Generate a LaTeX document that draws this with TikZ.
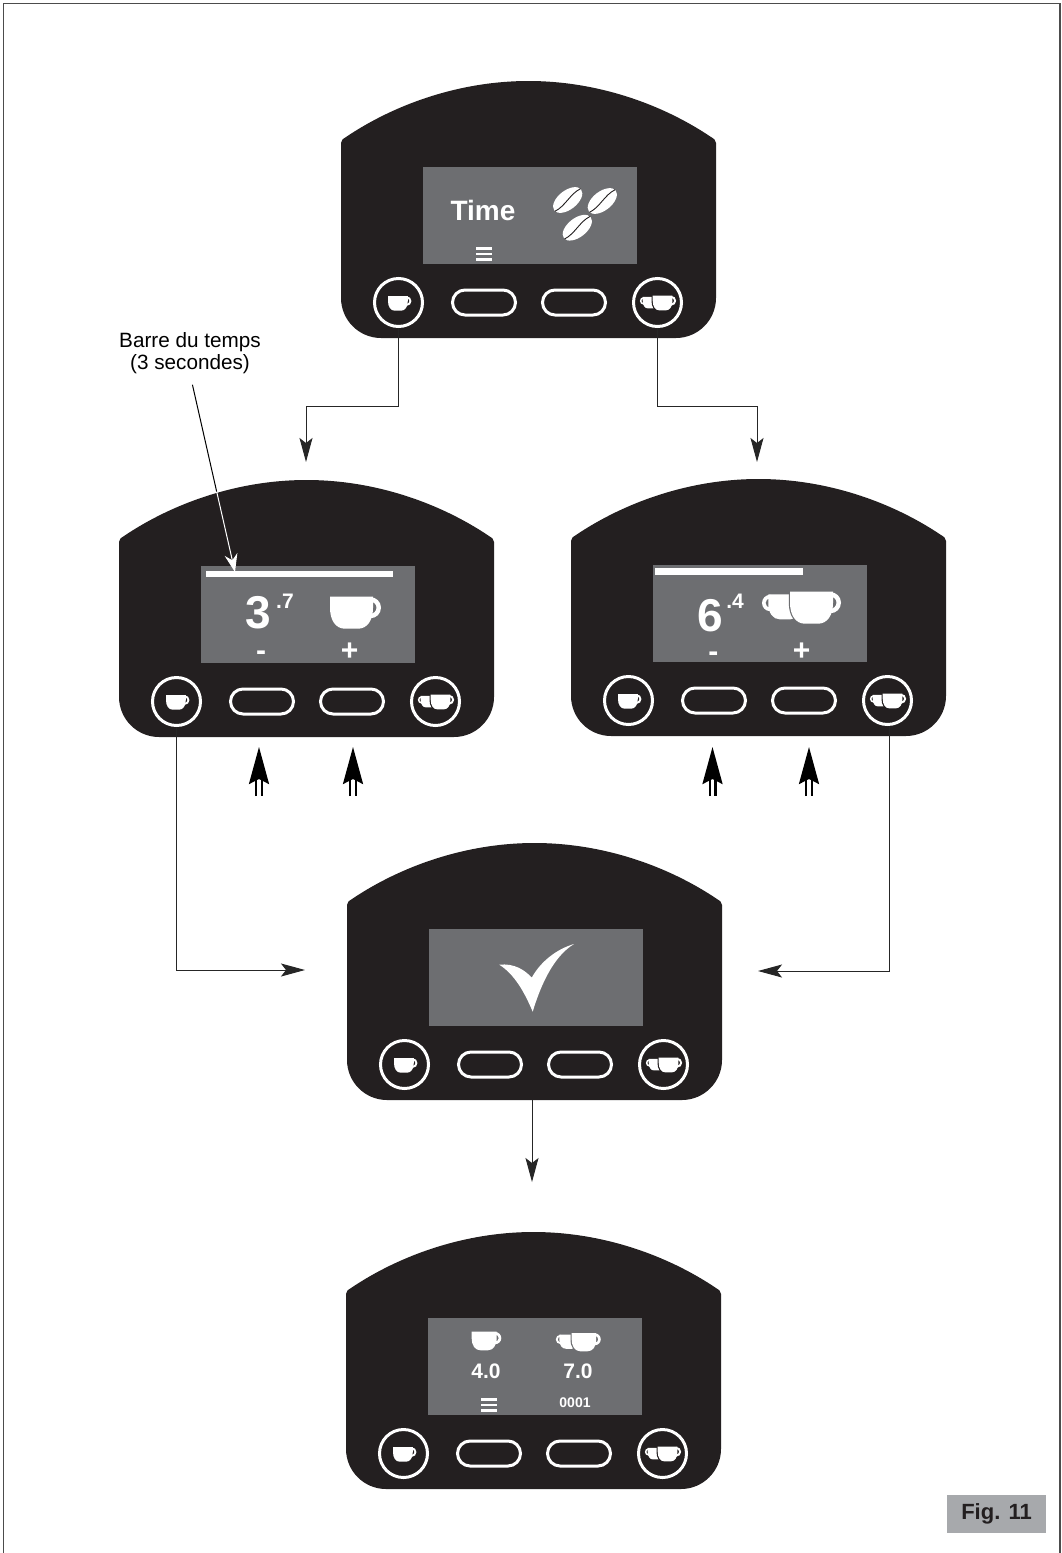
\documentclass[tikz,border=0pt]{standalone}
\usepackage{fontspec}
\setmainfont{Liberation Sans}
\usepackage{xcolor}
\usetikzlibrary{arrows.meta, positioning}

\definecolor{bodydark}{HTML}{231F20}
\definecolor{lcdgray}{HTML}{6D6E71}
\definecolor{figgray}{HTML}{A7A9AC}

\newcommand{\cupbowl}[1]{\path[#1] (0,0) -- (0,11) .. controls (0,24) and (6,32) .. (15,32) -- (28,32) .. controls (37,32) and (43,24) .. (43,11) -- (43,0) -- cycle;}
\newcommand{\cuphandle}{\fill[white,even odd rule] (40.5,11) circle (10.5) (40.5,11) circle (6);}

\tikzset{
  roundbtn/.style={circle,draw=white,line width=3pt,minimum size=48pt,inner sep=0pt},
  ovalbtn/.style={draw=white,line width=3pt,minimum width=63pt,minimum height=25pt,rounded corners=12.5pt,inner sep=0pt},
  wire/.style={black!85,line width=1pt,-{Stealth[length=24pt,width=13pt,inset=5pt]}},
  barwire/.style={line width=1pt,-{Stealth[length=18pt,width=13pt,inset=6pt]}},
  pusharrow/.style={black,line width=2.4pt,double,double distance=3.2pt,-{Stealth[length=37pt,width=20pt,inset=5pt]}},
  lcd/.style={font=\fontsize{#1}{#1}\selectfont\bfseries,text=white,inner sep=0pt,anchor=base},
  pics/cupone/.style={code={
    \cuphandle
    \cupbowl{fill=white}
  }},
  pics/cuptwo/.style={code={
    \begin{scope}[shift={(11.8,2.7)},xscale=-0.78,yscale=0.78]
      \cuphandle
      \cupbowl{fill=white}
    \end{scope}
    \cupbowl{draw=#1,line width=2.4pt}
    \cuphandle
    \cupbowl{fill=white}
  }},
  pics/menubars/.style={code={
    \foreach \y in {81.5,87,92.5} {
      \fill[white] (53,\y-1.4) rectangle (68.5,\y+1.4);
    }
  }},
  pics/bean/.style={code={
    \begin{scope}[rotate=38]
      \fill[white] (0,0) ellipse (17 and 9.5);
      \draw[bodydark,line width=0.9pt] (-17,1) .. controls (-6,3.5) and (6,-3.5) .. (17,-1);
    \end{scope}
  }},
  pics/panel/.style={code={
    \fill[bodydark] (-82,-24) .. controls (-82,-27) and (-80,-28) .. (-77,-30)
      .. controls (-28,-63) and (37,-86) .. (105.5,-86)
      .. controls (174,-86) and (239,-63) .. (288,-30)
      .. controls (291,-28) and (293,-27) .. (293,-24)
      -- (293,131) .. controls (293,153) and (275,171) .. (253,171)
      -- (-42,171) .. controls (-64,171) and (-82,153) .. (-82,131) -- cycle;
    \fill[lcdgray] (0,0) rectangle (214,97);
    \node[roundbtn] (-one) at (-24.5,135.5) {};
    \node[ovalbtn] (-minus) at (61,135.5) {};
    \node[ovalbtn] (-plus) at (151,135.5) {};
    \node[roundbtn] (-two) at (234.5,135.5) {};
    \coordinate (-foot) at (103,171);
    \pic[scale=0.46] at (-35,129) {cupone};
    \pic[scale=0.46] at (229.7,128.7) {cuptwo=bodydark};
  }},
}

\begin{document}
\begin{tikzpicture}[x=1pt,y=-1pt]
\useasboundingbox (0,0) rectangle (1062,1553);

% page frame
\draw[black!70,line width=1.5pt] (3.7,1553) -- (3.7,3.7) -- (1060,3.7) -- (1060,1553);

% the five panels
\pic (top) at (423,167) {panel};
\pic (left) at (201,566) {panel};
\pic (right) at (653,565) {panel};
\pic (check) at (429,929) {panel};
\pic (final) at (428,1318) {panel};

% top screen
\node[lcd=28] (timetext) at (483,220.7) {Time};
\pic at (423,167) {menubars};
\pic at (567.7,200) {bean};
\pic at (602.3,201) {bean};
\pic at (577.3,227.7) {bean};

% left screen
\fill[white] (206,571) rectangle (392.7,577.3);
\node[lcd=46] (leftbig) at (258.5,628.3) {3};
\node[lcd=21] (leftsmall) at (285,608) {.7};
\node[lcd=30] (leftminus) at (261,660) {-};
\node[lcd=30] (leftplus) at (349.7,660) {+};
\pic at (330,596.7) {cupone};

% right screen
\fill[white] (655,568.3) rectangle (802.7,574.7);
\node[lcd=46] (rightbig) at (710,631) {6};
\node[lcd=21] (rightsmall) at (735,608.3) {.4};
\node[lcd=30] (rightminus) at (713.3,661) {-};
\node[lcd=30] (rightplus) at (801.7,660.7) {+};
\pic at (790,591.7) {cuptwo=lcdgray};

% tick mark
\fill[white] (499.3,964.7) .. controls (514,963) and (525,970) .. (531.7,977.7)
  .. controls (541,961) and (557,949) .. (574,944)
  .. controls (554,956) and (541,984) .. (532.7,1011.7)
  .. controls (524,991) and (514,974) .. (499.3,964.7) -- cycle;

% last screen
\pic[scale=0.58] at (471.7,1331.7) {cupone};
\pic[scale=0.57] at (571.7,1333) {cuptwo=lcdgray};
\node[lcd=21] (singleval) at (486,1378.3) {4.0};
\node[lcd=21] (doubleval) at (578,1378.3) {7.0};
\node[lcd=14] (counter) at (575,1407.3) {0001};
\pic at (428,1318) {menubars};

% free ends of the connectors
\coordinate (bendleft) at (306,406);
\coordinate (endleft) at (306,462);
\coordinate (bendright) at (757,406);
\coordinate (endright) at (757,462);
\coordinate (endcheckl) at (305,970);
\coordinate (endcheckr) at (758,971);
\coordinate (endfinal) at (532,1182);

\draw[wire] (top-one.south) |- (bendleft) -- (endleft);
\draw[wire] (top-two.south) |- (bendright) -- (endright);
\draw[wire] (left-one.south) |- (endcheckl);
\draw[wire] ([xshift=2pt]right-two.south) |- (endcheckr);
\draw[wire] (check-foot) -- (endfinal);

% bar label, black outside the panel and white inside
\node[font=\fontsize{20.7}{22}\selectfont,align=center,anchor=south,inner sep=0pt] (barlabel) at (190,374) {Barre du temps\\(3 secondes)};
\coordinate (barcross) at (216.7,491.7);
\coordinate (bartip) at (235,572);
\draw[black,line width=1pt,shorten <=11pt] (barlabel.south) -- (barcross);
\draw[white,barwire] (barcross) -- (bartip);

% press arrows under the buttons
\foreach \ax in {259,353,712.5,809} {
  \draw[pusharrow] (\ax,796) -- (\ax,747);
}

% figure tag
\node[fill=figgray,minimum width=99pt,minimum height=38pt,inner sep=0pt,font=\fontsize{22}{22}\selectfont\bfseries,text=bodydark] (figtag) at (996.5,1514) {Fig. 11};

\end{tikzpicture}
\end{document}
